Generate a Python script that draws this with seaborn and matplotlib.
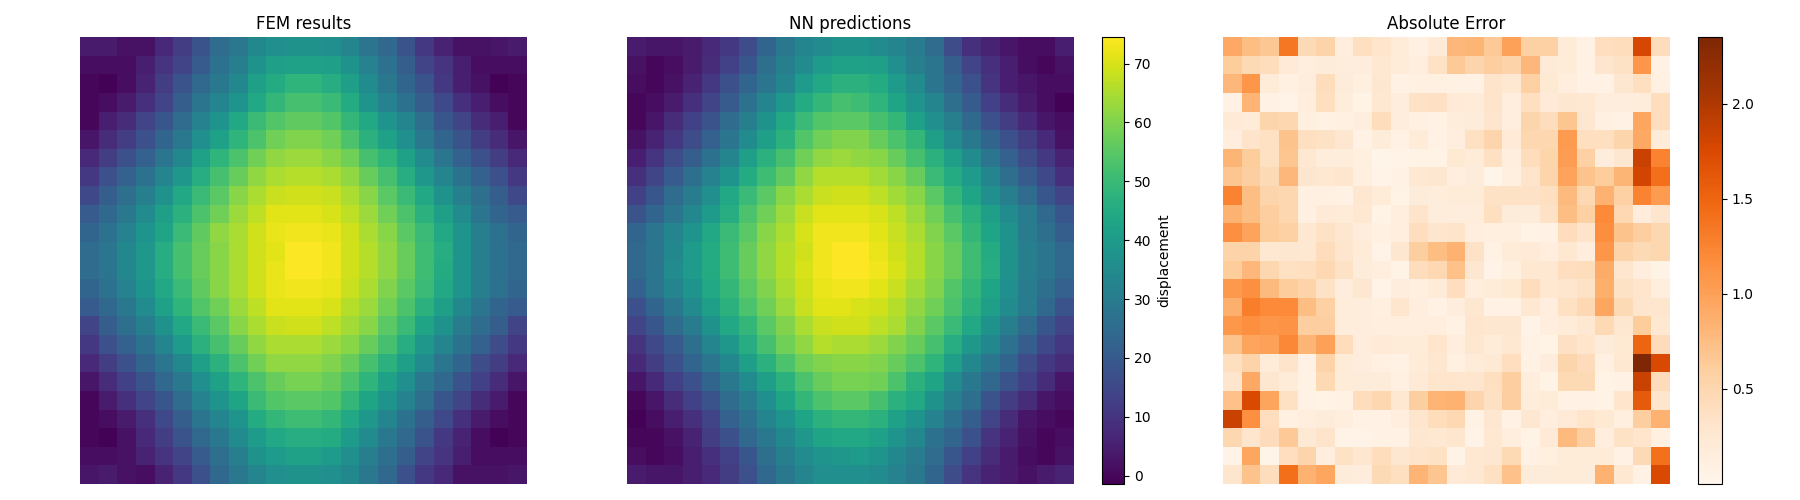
import numpy as np
import seaborn as sns
import matplotlib.pyplot as plt

fem = [
    [4, 4, 2, 2, 7, 12, 18, 25, 29, 34, 36, 37, 37, 36, 33, 28, 24, 18, 11, 6, 2, 2, 3, 4],
    [1, 1, 1, 5, 10, 14, 20, 27, 31, 37, 41, 42, 42, 41, 37, 32, 27, 21, 14, 10, 5, 1, 1, 1],
    [0, -1, 1, 6, 12, 18, 24, 29, 34, 41, 45, 48, 48, 46, 41, 35, 29, 23, 18, 11, 5, 2, -1, 0],
    [0, 1, 4, 9, 14, 21, 28, 33, 38, 44, 49, 52, 52, 50, 45, 38, 32, 27, 21, 15, 9, 5, 1, 0],
    [0, 5, 8, 14, 19, 25, 32, 38, 44, 50, 54, 56, 56, 54, 49, 44, 38, 33, 26, 19, 14, 8, 5, 0],
    [3, 8, 12, 17, 23, 29, 36, 42, 48, 53, 58, 60, 60, 58, 53, 47, 42, 36, 29, 23, 18, 12, 8, 3],
    [7, 12, 17, 22, 28, 34, 42, 48, 53, 58, 62, 63, 63, 61, 58, 52, 48, 42, 35, 28, 22, 17, 12, 7],
    [11, 17, 22, 27, 33, 39, 46, 52, 57, 62, 65, 66, 66, 65, 62, 57, 52, 46, 39, 33, 27, 22, 17, 11],
    [15, 21, 26, 31, 37, 44, 50, 55, 61, 65, 68, 69, 69, 68, 65, 61, 55, 50, 44, 37, 31, 26, 21, 15],
    [20, 24, 29, 35, 41, 47, 53, 58, 63, 67, 71, 71, 71, 70, 67, 63, 58, 53, 47, 41, 35, 28, 23, 20],
    [23, 27, 32, 38, 43, 50, 56, 62, 65, 69, 72, 73, 73, 72, 69, 65, 61, 55, 50, 44, 38, 31, 27, 23],
    [25, 28, 34, 39, 46, 52, 57, 61, 65, 69, 71, 74, 74, 73, 69, 66, 62, 57, 51, 46, 38, 31, 27, 24],
    [25, 28, 34, 39, 46, 52, 57, 61, 65, 69, 72, 74, 74, 73, 69, 66, 62, 57, 51, 45, 38, 31, 27, 24],
    [23, 27, 32, 38, 44, 50, 56, 61, 65, 69, 72, 73, 73, 72, 68, 65, 60, 55, 50, 44, 38, 31, 27, 23],
    [20, 24, 29, 35, 42, 48, 54, 58, 63, 67, 71, 71, 71, 70, 66, 63, 58, 53, 47, 41, 34, 28, 23, 20],
    [14, 21, 26, 31, 37, 44, 50, 55, 61, 65, 68, 69, 69, 67, 64, 61, 55, 50, 43, 37, 30, 25, 21, 14],
    [11, 17, 22, 27, 33, 40, 47, 52, 57, 62, 65, 65, 65, 63, 61, 57, 52, 46, 39, 33, 27, 22, 16, 11],
    [7, 12, 17, 23, 28, 34, 41, 47, 53, 58, 62, 62, 62, 60, 57, 52, 47, 41, 35, 28, 23, 16, 12, 7],
    [3, 8, 13, 18, 24, 29, 36, 42, 48, 53, 57, 59, 59, 57, 53, 48, 42, 36, 29, 24, 18, 13, 8, 3],
    [0, 4, 9, 14, 19, 25, 32, 38, 43, 50, 54, 55, 55, 54, 49, 43, 38, 32, 26, 19, 14, 8, 4, 0],
    [0, 1, 4, 9, 15, 21, 28, 33, 38, 45, 49, 51, 51, 49, 44, 39, 33, 27, 21, 15, 9, 4, 1, 0],
    [0, -1, 2, 7, 12, 18, 24, 29, 35, 40, 44, 46, 46, 45, 40, 35, 29, 24, 18, 11, 6, 1, -1, 0],
    [1, 1, 2, 6, 10, 14, 20, 26, 31, 37, 40, 42, 42, 40, 36, 31, 26, 21, 14, 10, 5, 1, 1, 1],
    [3, 4, 2, 1, 6, 11, 17, 24, 29, 33, 36, 37, 37, 36, 34, 29, 24, 17, 11, 7, 2, 2, 2, 3],
]

nn = [
    [4, 3, 3, 4, 7, 11, 16, 23, 29, 33, 35, 37, 37, 35, 33, 30, 25, 16, 9, 6, 3, 1, 1, 5],
    [2, 0, 1, 4, 8, 13, 19, 26, 31, 35, 40, 42, 42, 41, 36, 31, 28, 21, 14, 9, 5, 1, 0, 2],
    [1, 0, 2, 6, 11, 17, 23, 28, 33, 40, 44, 47, 47, 45, 40, 35, 28, 23, 17, 10, 5, 3, 1, 1],
    [0, 1, 4, 9, 14, 20, 27, 33, 39, 45, 49, 52, 51, 48, 43, 38, 33, 26, 20, 13, 8, 4, 1, -1],
    [0, 3, 8, 13, 18, 25, 31, 37, 44, 50, 54, 55, 55, 52, 49, 42, 36, 31, 24, 17, 12, 7, 3, 1],
    [2, 6, 11, 16, 22, 28, 35, 41, 47, 54, 58, 60, 60, 57, 53, 49, 41, 35, 29, 23, 17, 12, 7, 2],
    [5, 10, 16, 21, 27, 33, 41, 47, 52, 58, 62, 63, 62, 61, 57, 52, 47, 41, 35, 28, 22, 16, 11, 6],
    [9, 14, 20, 26, 32, 38, 45, 51, 56, 62, 66, 66, 66, 64, 61, 57, 50, 45, 40, 33, 26, 20, 15, 9],
    [13, 19, 25, 30, 36, 44, 50, 55, 61, 65, 68, 69, 69, 67, 64, 61, 55, 49, 43, 36, 31, 25, 19, 14],
    [18, 23, 28, 34, 40, 46, 53, 58, 63, 68, 71, 71, 71, 70, 67, 63, 58, 52, 47, 41, 35, 30, 24, 19],
    [23, 28, 33, 38, 44, 50, 55, 61, 65, 70, 73, 73, 73, 71, 68, 65, 60, 55, 49, 43, 37, 30, 26, 21],
    [24, 28, 34, 40, 45, 51, 57, 62, 66, 69, 73, 74.5, 74.5, 72, 69, 66, 61, 57, 51, 45, 37, 31, 28, 24],
    [24, 28, 35, 40, 45, 51, 57, 62, 66, 70, 73, 74.5, 74.5, 73, 70, 66, 61, 57, 51, 46, 37, 31, 28, 24],
    [22, 28, 33, 38, 44, 49, 55, 60, 65, 69, 72, 73, 73, 71, 68, 64, 60, 54, 49, 43, 36, 30, 26, 22],
    [17, 23, 29, 35, 41, 47, 53, 58, 63, 68, 71, 71, 70, 69, 66, 62, 58, 53, 47, 41, 35, 30, 24, 18],
    [14, 19, 25, 30, 37, 44, 49, 55, 60, 65, 68, 69, 69, 67, 65, 60, 55, 50, 44, 37, 31, 25, 19, 14],
    [10, 15, 20, 26, 33, 39, 46, 52, 58, 62, 66, 65, 65, 63, 60, 57, 52, 46, 39, 34, 27, 21, 15, 11],
    [7, 12, 17, 23, 28, 34, 41, 47, 53, 58, 60, 61, 61, 60, 57, 53, 48, 41, 34, 28, 23, 16, 11, 8],
    [3, 7, 13, 17, 23, 29, 35, 41, 47, 53, 57, 59, 59, 58, 53, 47, 43, 35, 29, 24, 18, 13, 8, 3],
    [0, 3, 8, 13, 18, 25, 30, 36, 43, 49, 53, 55, 55, 52, 47, 44, 37, 31, 26, 18, 12, 8, 3, 1],
    [-1, 1, 5, 9, 14, 22, 27, 33, 38, 43, 47, 49, 49, 47, 42, 38, 32, 27, 21, 14, 8, 3, 1, 0],
    [0, 0, 2, 6, 12, 17, 24, 29, 34, 39, 43, 44, 44, 42, 38, 34, 27, 23, 17, 10, 6, 2, 0, 1],
    [1, 0, 1, 5, 9, 13, 19, 26, 31, 35, 38, 39, 40, 38, 34, 30, 25, 19, 13, 8, 4, 1, 0, 2],
    [4, 3, 3, 5, 7, 12, 17, 24, 29, 33, 36, 36, 36, 35, 32, 29, 23, 16, 10, 6, 4, 2, 4, 6],
]

error = [
    [.92, .75, .67, 1.35, .45, .55, .14, .38, .32, .2, .1, .22, .8, .82, .65, 1.0, .58, .58, .2, .08, .4, .42, 1.78, .42],
    [.62, .45, .42, .22, .14, .18, .15, .15, .25, .2, .13, .35, .65, .52, .6, .55, .8, .22, .2, .08, .3, .35, 1.1, .07],
    [.8, 1.1, .2, .1, .15, .42, .18, .12, .27, .08, .1, .1, .07, .09, .33, .26, .58, .24, .13, .07, .08, .28, .38, .1],
    [.08, .83, .07, .04, .13, .38, .17, .05, .25, .15, .35, .36, .22, .2, .33, .13, .38, .22, .28, .25, .16, .15, .17, .4],
    [.22, .2, .52, .5, .12, .09, .11, .14, .42, .16, .1, .07, .17, .18, .3, .14, .52, .42, .68, .28, .1, .07, .95, .4],
    [.14, .33, .37, .7, .38, .35, .28, .08, .18, .08, .2, .07, .13, .37, .52, .22, .5, .5, 1.05, .38, .38, .52, .93, .2],
    [.82, .62, .37, .68, .26, .17, .17, .12, .03, .06, .05, .05, .24, .2, .37, .14, .42, .53, 1.03, .58, .16, .28, 1.85, 1.25],
    [.68, .6, .45, .8, .3, .25, .3, .12, .04, .08, .25, .27, .14, .18, .03, .12, .33, .52, .98, .7, .62, .82, 1.8, 1.42],
    [1.25, .75, .52, .5, .1, .1, .08, .27, .2, .05, .18, .17, .2, .2, .35, .35, .34, .38, .78, .48, .85, .57, 1.25, 1.05],
    [.85, .75, .6, .5, .1, .22, .2, .26, .05, .14, .33, .17, .16, .17, .38, .18, .18, .35, .75, .58, 1.2, .48, .15, .3],
    [1.15, .98, .62, .58, .25, .35, .27, .16, .1, .13, .4, .3, .33, .13, .12, .12, .05, .09, .42, .33, 1.17, .7, .6, .5],
    [.55, .55, .25, .28, .26, .42, .3, .2, .06, .28, .6, .75, .85, .34, .08, .2, .22, .13, .25, .14, 1.1, .55, .45, .5],
    [.62, .8, .5, .37, .38, .48, .35, .18, .13, .05, .42, .48, .72, .27, .06, .12, .26, .26, .4, .42, .9, .3, .14, .05],
    [1.07, 1.15, .78, .62, .55, .35, .15, .27, .06, .16, .12, .2, .4, .13, .2, .24, .42, .25, .3, .35, .88, .35, .32, .13],
    [.87, 1.3, 1.2, 1.2, .75, .58, .17, .15, .12, .3, .14, .09, .16, .27, .08, .07, .25, .13, .37, .48, .95, .45, .3, .3],
    [1.08, 1.15, 1.1, 1.12, .6, .6, .17, .16, .13, .14, .14, .14, .08, .3, .28, .28, .06, .14, .2, .25, .47, .28, .62, .25],
    [.7, .97, 1.0, 1.22, .82, 1.0, .42, .15, .22, .2, .2, .32, .14, .28, .2, .25, .08, .05, .36, .32, .18, .24, 1.5, .43],
    [.38, .55, .2, .33, .09, .55, .2, .16, .11, .07, .2, .27, .1, .2, .23, .4, .09, .16, .52, .43, .1, .25, 2.35, 1.75],
    [.3, .92, .27, .2, .08, .47, .2, .18, .18, .1, .22, .32, .3, .3, .38, .6, .13, .05, .47, .45, .05, .09, 1.85, .43],
    [.72, 1.75, .97, .37, .07, .05, .08, .42, .5, .26, .6, .83, .85, .52, .37, .6, .17, .2, .07, .09, .05, .32, 1.6, .3],
    [1.85, 1.15, .4, .1, .13, .18, .14, .07, .09, .14, .3, .42, .48, .08, .27, .08, .28, .14, .22, .32, .24, .12, .6, .85],
    [.5, .3, .43, .65, .23, .33, .06, .04, .07, .07, .27, .26, .3, .06, .25, .13, .05, .22, .78, .6, .14, .35, .32, .11],
    [.06, .95, .03, .4, .52, .14, .35, .27, .42, .27, .33, .35, .06, .26, .28, .47, .08, .12, .2, .2, .2, .08, .45, 1.4],
    [.3, .7, .42, 1.42, .85, .95, .18, .16, .45, .38, .83, .68, .22, .26, .37, .72, .18, .18, .2, .18, .85, .25, .07, 1.75],
]

disp_ticks = [0, 10, 20, 30, 40, 50, 60, 70]
err_ticks = [0.5, 1.0, 1.5, 2.0]


def rect(left, right, top=37, bottom=484):
    # pixel box -> figure fractions
    return [left / 1800, 1 - bottom / 500, (right - left) / 1800, (bottom - top) / 500]


def finish_cbar(ax, cax, ticks, label=None):
    cbar = ax.collections[0].colorbar
    cbar.outline.set_linewidth(0.8)
    cbar.outline.set_edgecolor('black')
    cbar.set_ticks(ticks)
    cax.tick_params(labelsize=10, length=3.5, width=0.8)
    if label:
        cbar.set_label(label, fontsize=10)


fig = plt.figure(figsize=(18, 5), dpi=100)
ax1 = fig.add_axes(rect(80, 527))
ax2 = fig.add_axes(rect(627, 1074))
cax2 = fig.add_axes(rect(1102, 1124))
ax3 = fig.add_axes(rect(1223, 1670))
cax3 = fig.add_axes(rect(1698, 1722))

sns.heatmap(np.array(fem), ax=ax1, cmap='viridis', vmin=-1.4, vmax=74.5, cbar=False,
            xticklabels=False, yticklabels=False)
sns.heatmap(np.array(nn), ax=ax2, cmap='viridis', vmin=-1.4, vmax=74.5, cbar_ax=cax2,
            xticklabels=False, yticklabels=False)
sns.heatmap(np.array(error), ax=ax3, cmap='Oranges', vmin=0.0, vmax=2.35, cbar_ax=cax3,
            xticklabels=False, yticklabels=False)

finish_cbar(ax2, cax2, disp_ticks, 'displacement')
finish_cbar(ax3, cax3, err_ticks)

ax1.set_title('FEM results', fontsize=12)
ax2.set_title('NN predictions', fontsize=12)
ax3.set_title('Absolute Error', fontsize=12)

fig.savefig('out.png', dpi=100)
